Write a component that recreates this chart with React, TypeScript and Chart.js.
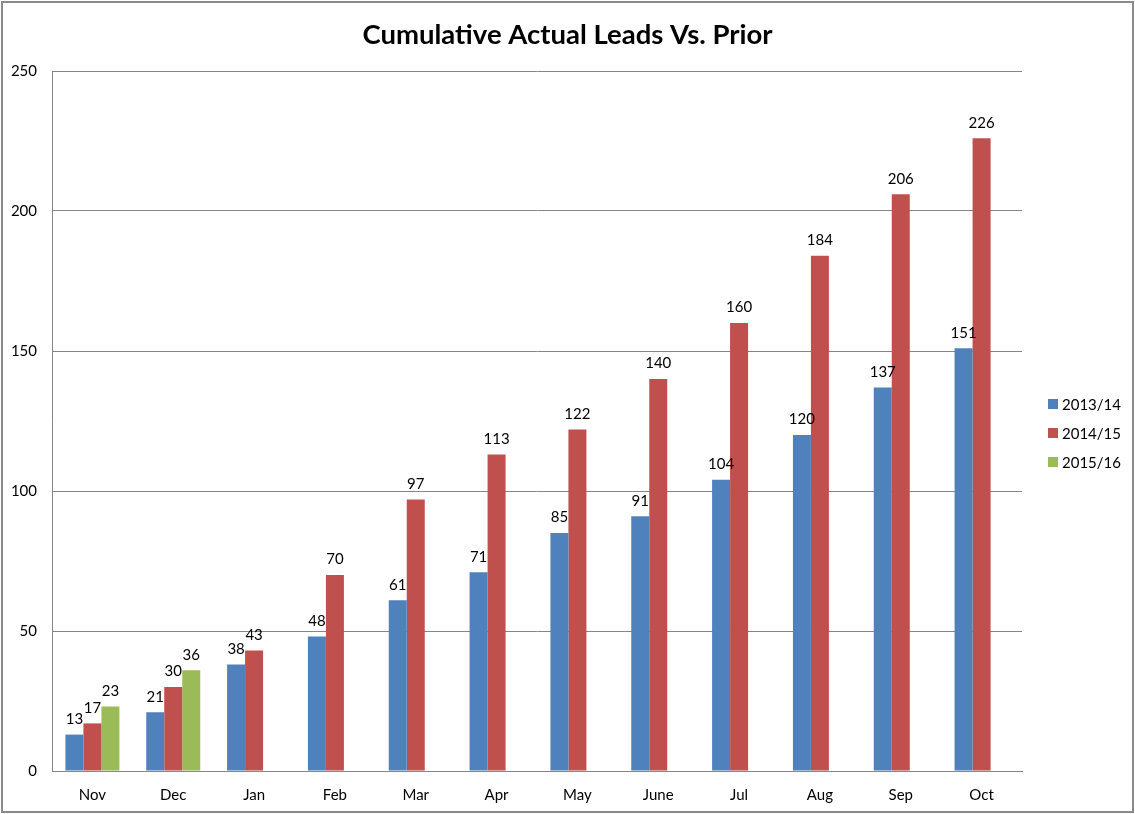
import React, { useEffect, useRef } from "react";
import { Chart, registerables } from "chart.js";

Chart.register(...registerables);

const categories = ["Nov", "Dec", "Jan", "Feb", "Mar", "Apr", "May", "June", "Jul", "Aug", "Sep", "Oct"];
const seriesLabels = ["2013/14", "2014/15", "2015/16"];
const series1314 = [13, 21, 38, 48, 61, 71, 85, 91, 104, 120, 137, 151];
const series1415 = [17, 30, 43, 70, 97, 113, 122, 140, 160, 184, 206, 226];
const series1516 = [23, 36, null, null, null, null, null, null, null, null, null, null];
const seriesColors = ["#4F81BD", "#C0504D", "#9BBB59"];
const chartTitle = "Cumulative Actual Leads Vs. Prior";
const yMax = 250;
const yStep = 50;

const FONT = "Lato, 'Open Sans', sans-serif";

const frameAndLabels = {
  id: "frameAndLabels",
  afterDatasetsDraw(chart: any) {
    const ctx = chart.ctx;
    ctx.save();
    // title
    ctx.font = `bold 27.5px ${FONT}`;
    ctx.fillStyle = "#000";
    ctx.textAlign = "center";
    ctx.textBaseline = "middle";
    ctx.fillText(chartTitle, chart.width / 2, 35);
    // data labels
    ctx.font = `15px ${FONT}`;
    ctx.fillStyle = "#000";
    ctx.textAlign = "center";
    ctx.textBaseline = "bottom";
    chart.data.datasets.forEach((ds: any, i: number) => {
      const meta = chart.getDatasetMeta(i);
      meta.data.forEach((el: any, j: number) => {
        const v = ds.data[j];
        if (v === null || v === undefined) return;
        ctx.fillText(String(v), el.x, el.y - 8);
      });
    });
    // legend
    const lx = 1048;
    const ly = [404, 433, 462];
    ctx.textAlign = "left";
    ctx.textBaseline = "middle";
    chart.data.datasets.forEach((ds: any, i: number) => {
      ctx.fillStyle = ds.backgroundColor;
      ctx.fillRect(lx, ly[i] - 5, 10, 10);
      ctx.fillStyle = "#000";
      ctx.fillText(ds.label, lx + 14, ly[i] + 1);
    });
    // frame
    ctx.strokeStyle = "#8a8a8a";
    ctx.lineWidth = 2;
    ctx.strokeRect(2, 2, chart.width - 4, chart.height - 4);
    ctx.restore();
  },
};

export default function App() {
  const ref = useRef<HTMLCanvasElement>(null);
  useEffect(() => {
    if (!ref.current) return;
    const chart = new Chart(ref.current, {
      type: "bar",
      data: {
        labels: categories,
        datasets: [
          { label: seriesLabels[0], data: series1314, backgroundColor: seriesColors[0] },
          { label: seriesLabels[1], data: series1415, backgroundColor: seriesColors[1] },
          { label: seriesLabels[2], data: series1516 as any, backgroundColor: seriesColors[2] },
        ],
      },
      options: {
        responsive: false,
        animation: false,
        layout: { padding: { left: 0, right: 113, top: 71, bottom: 0 } },
        datasets: { bar: { categoryPercentage: 0.668, barPercentage: 1 } } as any,
        plugins: {
          legend: { display: false },
          tooltip: { enabled: false },
          title: { display: false },
        },
        scales: {
          x: {
            grid: { display: false, drawTicks: false },
            border: { display: true, color: "#868686", width: 1 },
            ticks: { color: "#000", font: { family: FONT, size: 15 }, padding: 15, maxRotation: 0 },
            afterFit: (s: any) => { s.height = 43; },
          },
          y: {
            min: 0,
            max: yMax,
            ticks: { stepSize: yStep, color: "#000", font: { family: FONT, size: 15 }, padding: 15 },
            grid: { color: "#868686", drawTicks: false },
            border: { display: true, color: "#868686", width: 1 },
            afterFit: (s: any) => { s.width = 52; },
          },
        },
      },
      plugins: [frameAndLabels],
    });
    return () => chart.destroy();
  }, []);
  return (
    <div style={{ position: "fixed", left: 0, top: 0, width: 1135, height: 814, background: "#fff" }}>
      <canvas ref={ref} width={1135} height={814} />
    </div>
  );
}
